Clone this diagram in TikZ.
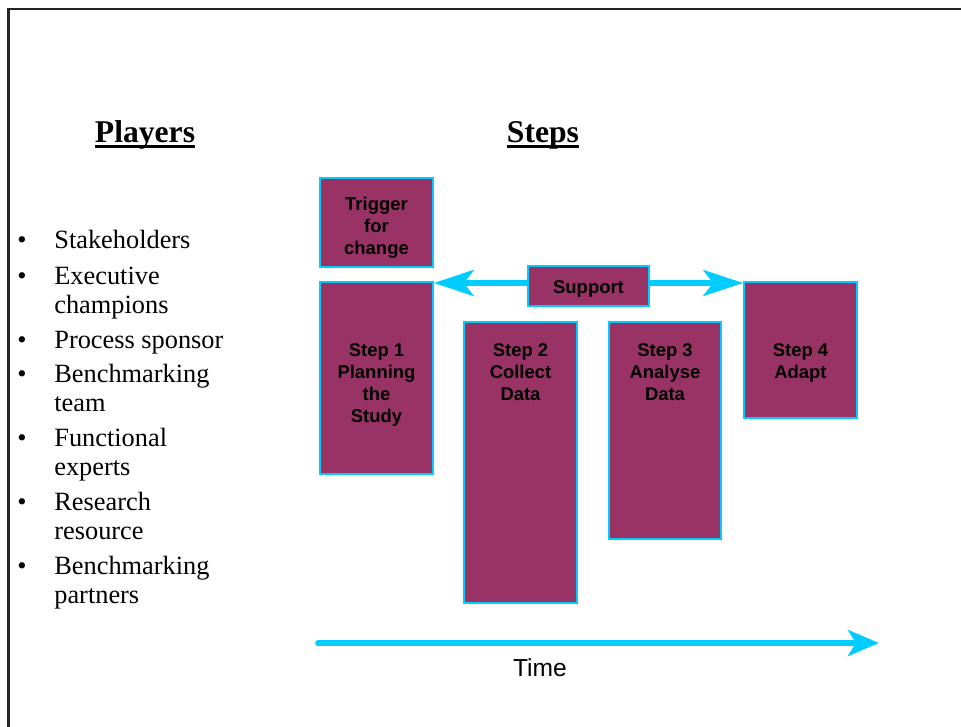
\documentclass[tikz,border=0pt]{standalone}
\usepackage{fontspec}
\setmainfont{Liberation Serif}
\setsansfont{Liberation Sans}
\usetikzlibrary{arrows.meta, positioning}
\definecolor{plum}{RGB}{153,51,102}
\definecolor{skyline}{RGB}{0,204,255}
\tikzset{
	block/.style={draw=skyline, fill=plum, line width=0.9pt, inner sep=0pt},
	boxtext/.style={font=\sffamily\bfseries\fontsize{10.5}{12.5}\selectfont, align=center, inner sep=0pt},
	heading/.style={font=\bfseries\fontsize{18}{22}\selectfont, inner sep=0pt, anchor=base},
	player/.style={font=\fontsize{15}{16.5}\selectfont, align=left, inner sep=0pt, anchor=base west},
	dot/.style={font=\fontsize{15}{16.5}\selectfont, inner sep=0pt, anchor=base},
	flow/.style={draw=skyline, line width=3.2pt, -{Stealth[length=0.8cm, width=0.52cm, inset=0.2cm]}}
}

\begin{document}
\begin{tikzpicture}[x=0.02cm, y=-0.02cm]
	\useasboundingbox (0,0) rectangle (961,727);
	\draw[black!85, line width=1.3pt] (8.5,727) -- (8.5,9) -- (961,9);
	
	% headings
	\node[heading] (players) at (145,142) {Players};
	\draw[line width=1.7pt] ([yshift=-0.09cm]players.base west) -- ([yshift=-0.09cm]players.base east);
	\node[heading] (steps) at (543,142) {Steps};
	\draw[line width=1.7pt] ([yshift=-0.09cm]steps.base west) -- ([yshift=-0.09cm]steps.base east);
	
	% players (base = last line)
	\node[dot] (d1) at (22,248) {\textbullet};
	\node[player] (p1) at (54,248) {Stakeholders};
	\node[dot] (d2) at (22,284) {\textbullet};
	\node[player] (p2) at (54,313) {Executive\\champions};
	\node[dot] (d3) at (22,348) {\textbullet};
	\node[player] (p3) at (54,348) {Process sponsor};
	\node[dot] (d4) at (22,382) {\textbullet};
	\node[player] (p4) at (54,411) {Benchmarking\\team};
	\node[dot] (d5) at (22,446) {\textbullet};
	\node[player] (p5) at (54,475) {Functional\\experts};
	\node[dot] (d6) at (22,510) {\textbullet};
	\node[player] (p6) at (54,539) {Research\\resource};
	\node[dot] (d7) at (22,574) {\textbullet};
	\node[player] (p7) at (54,603) {Benchmarking\\partners};
	
	% steps
	\node[block, minimum width=2.26cm, minimum height=1.78cm] (trigger) at (376.5,222.5) {};
	\node[boxtext, below=0.4cm of trigger.north] {Trigger\\for\\change};
	
	\node[block, minimum width=2.26cm, minimum height=3.84cm] (step1) at (376.5,378) {};
	\node[boxtext, below=1.24cm of step1.north] {Step 1\\Planning\\the\\Study};
	
	\node[block, minimum width=2.26cm, minimum height=5.62cm] (step2) at (520.5,462.5) {};
	\node[boxtext, below=0.44cm of step2.north] {Step 2\\Collect\\Data};
	
	\node[block, minimum width=2.24cm, minimum height=4.34cm] (step3) at (665,430.5) {};
	\node[boxtext, below=0.44cm of step3.north] {Step 3\\Analyse\\Data};
	
	\node[block, minimum width=2.26cm, minimum height=2.72cm] (step4) at (800.5,350) {};
	\node[boxtext, below=1.24cm of step4.north] {Step 4\\Adapt};
	
	\node[block, minimum width=2.42cm, minimum height=0.8cm] (support) at (588.5,286) {};
	\node[boxtext] at ([yshift=-0.05cm]support.center) {Support};
	
	\draw[flow] ([yshift=0.06cm]support.west) -- ([yshift=0.06cm]support.west -| step1.east);
	\draw[flow] ([yshift=0.06cm]support.east) -- ([yshift=0.06cm]support.east -| step4.west);
	
	% time line
	\coordinate (start) at (318,643);
	\coordinate (end) at (879,643);
	\draw[flow, line cap=round, -{Stealth[length=0.62cm, width=0.52cm, inset=0.16cm]}] (start) -- (end);
	\node[font=\sffamily\fontsize{14}{16}\selectfont, inner sep=0pt] (time) at (540,668) {Time};
\end{tikzpicture}
\end{document}
